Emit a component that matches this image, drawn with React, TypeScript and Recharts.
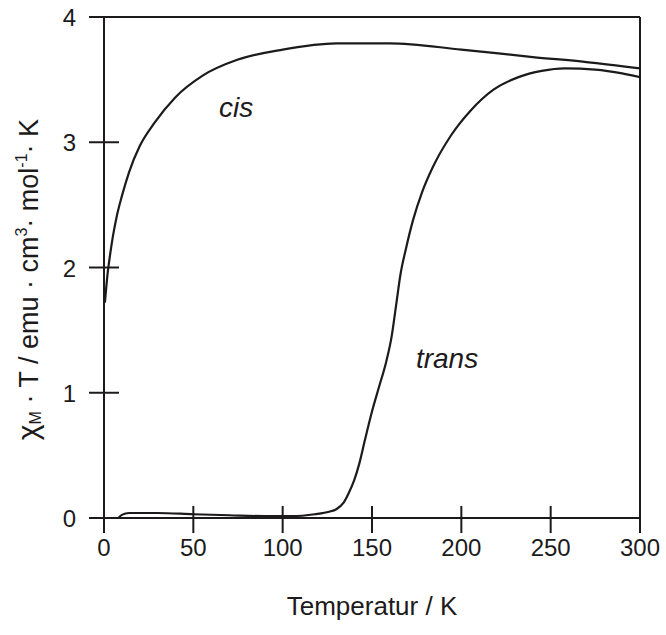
import React from "react";
import {
  LineChart,
  Line,
  XAxis,
  YAxis,
  ReferenceLine,
  ReferenceDot,
} from "recharts";

// cis isomer
const cisT = [0.5, 1, 2, 3, 5, 7, 10, 14, 20, 28, 40, 55, 75, 100, 130, 160, 200, 240, 270, 300];
const cisChi = [1.72, 1.8, 1.95, 2.06, 2.25, 2.4, 2.57, 2.76, 2.97, 3.15, 3.36, 3.53, 3.66, 3.74, 3.79, 3.79, 3.74, 3.68, 3.64, 3.59];

// trans isomer
const transT = [8, 10, 14, 30, 50, 70, 90, 105, 118, 126, 130, 134, 137, 140, 143, 146, 150, 154, 158, 161, 163.5, 166, 169, 173, 178, 184, 194, 205, 218, 232, 245, 258, 275, 290, 300];
const transChi = [0, 0.025, 0.04, 0.04, 0.03, 0.022, 0.015, 0.015, 0.03, 0.05, 0.07, 0.12, 0.2, 0.3, 0.44, 0.62, 0.85, 1.05, 1.25, 1.45, 1.7, 1.95, 2.15, 2.38, 2.6, 2.8, 3.05, 3.25, 3.42, 3.52, 3.57, 3.59, 3.58, 3.55, 3.52];

const xTicks = [0, 50, 100, 150, 200, 250, 300];
const yTicks = [0, 1, 2, 3, 4];

const curveNames = ["cis", "trans"];
const curveLabelT = [74, 192];
const curveLabelChi = [3.2, 1.2];

const cisData = cisT.map((t, i) => ({ T: t, chi: cisChi[i] }));
const transData = transT.map((t, i) => ({ T: t, chi: transChi[i] }));

const INK = "#1c1a1b";
const FONT = "'Liberation Sans', Arial, sans-serif";

function XTick(props: any) {
  const { x, y, payload } = props;
  return (
    <g>
      <line x1={x} x2={x} y1={y - 12} y2={y + 15} stroke={INK} strokeWidth={2} />
      <text x={x} y={y + 38} textAnchor="middle" fontSize={24} fontFamily={FONT} fill={INK}>
        {payload.value}
      </text>
    </g>
  );
}

function YTick(props: any) {
  const { x, y, payload } = props;
  return (
    <g>
      <line x1={x - 15} x2={x + 15} y1={y} y2={y} stroke={INK} strokeWidth={2} />
      <text x={x - 28} y={y + 9} textAnchor="end" fontSize={24} fontFamily={FONT} fill={INK}>
        {payload.value}
      </text>
    </g>
  );
}

function YTitle(props: any) {
  const { viewBox } = props;
  const cx = viewBox.x + 38;
  const cy = viewBox.y + viewBox.height / 2 + 12;
  return (
    <text
      x={cx}
      y={cy}
      transform={`rotate(-90 ${cx} ${cy})`}
      textAnchor="middle"
      fontSize={27}
      fontFamily={FONT}
      fill={INK}
    >
      <tspan fontSize={30}>χ</tspan>
      <tspan fontSize={16} dy={3}>M</tspan>
      <tspan dy={-3}> · T / emu · cm</tspan>
      <tspan fontSize={16} dy={-11}>3</tspan>
      <tspan dy={11}>· mol</tspan>
      <tspan fontSize={16} dy={-11}>-1</tspan>
      <tspan dy={11}>· K</tspan>
    </text>
  );
}

function XTitle(props: any) {
  const { viewBox } = props;
  return (
    <text
      x={viewBox.x + viewBox.width / 2}
      y={viewBox.y + 97}
      textAnchor="middle"
      fontSize={26}
      fontFamily={FONT}
      fill={INK}
    >
      Temperatur / K
    </text>
  );
}

function curveLabel(name: string) {
  return (props: any) => {
    const { viewBox } = props;
    return (
      <text
        x={viewBox.x + viewBox.width / 2}
        y={viewBox.y + viewBox.height / 2}
        textAnchor="middle"
        fontSize={28}
        fontStyle="italic"
        fontFamily={FONT}
        fill={INK}
      >
        {name}
      </text>
    );
  };
}

export default function App() {
  return (
    <div style={{ position: "absolute", left: 0, top: 0, background: "#fff" }}>
      <LineChart width={666} height={635} margin={{ top: 17, right: 26, bottom: 0, left: 0 }}>
        <XAxis
          type="number"
          dataKey="T"
          domain={[0, 300]}
          ticks={xTicks}
          allowDataOverflow
          height={117}
          tickSize={0}
          tickMargin={0}
          tickLine={false}
          tick={XTick}
          axisLine={{ stroke: INK, strokeWidth: 2 }}
          label={{ content: XTitle }}
        />
        <YAxis
          type="number"
          domain={[0, 4]}
          ticks={yTicks}
          allowDataOverflow
          width={104}
          tickSize={0}
          tickMargin={0}
          tickLine={false}
          tick={YTick}
          axisLine={{ stroke: INK, strokeWidth: 2 }}
          label={{ content: YTitle }}
        />
        <ReferenceLine y={4} stroke={INK} strokeWidth={2} />
        <ReferenceLine x={300} stroke={INK} strokeWidth={2} />
        <Line
          data={cisData}
          dataKey="chi"
          type="monotone"
          stroke={INK}
          strokeWidth={2.2}
          dot={false}
          isAnimationActive={false}
        />
        <Line
          data={transData}
          dataKey="chi"
          type="monotone"
          stroke={INK}
          strokeWidth={2.2}
          dot={false}
          isAnimationActive={false}
        />
        {curveNames.map((name, i) => (
          <ReferenceDot
            key={name}
            x={curveLabelT[i]}
            y={curveLabelChi[i]}
            r={1}
            fill="none"
            stroke="none"
            label={{ content: curveLabel(name) }}
          />
        ))}
      </LineChart>
    </div>
  );
}
